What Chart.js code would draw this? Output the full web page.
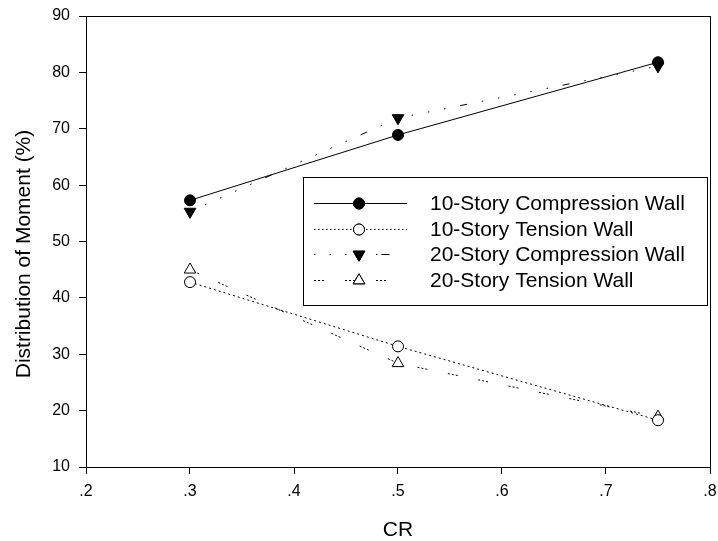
<!DOCTYPE html>
<html>
<head>
<meta charset="utf-8">
<script src="https://cdn.jsdelivr.net/npm/chart.js@4/dist/chart.umd.min.js"></script>
<style>
    html, body { margin: 0; padding: 0; background: #fff; }
    #wrap { width: 718px; height: 541px; }
</style>
</head>
<body>
<div id="wrap"><canvas id="momentChart" width="718" height="541"></canvas></div>
<script>
// --- data ---
const crValues = [0.3, 0.5, 0.75];
const compression10 = [57.3, 68.9, 81.8];
const tension10 = [42.8, 31.4, 18.3];
const compression20 = [55.3, 71.9, 81.1];
const tension20 = [45.0, 28.4, 18.9];
const seriesNames = [
    '10-Story Compression Wall',
    '10-Story Tension Wall',
    '20-Story Compression Wall',
    '20-Story Tension Wall'
];
const xTicks = [0.2, 0.3, 0.4, 0.5, 0.6, 0.7, 0.8];
const yTicks = [10, 20, 30, 40, 50, 60, 70, 80, 90];

const FONT = '"Liberation Sans", Arial, sans-serif';

function toPoints(values) {
    return crValues.map((x, i) => ({ x: x, y: values[i] }));
}

// line style for each series (dash on plot / dash in legend)
const styles = [
    { dash: [], legendDash: [], point: 'circle', rot: 0, fill: '#000', radius: 5.5 },
    { dash: [2, 3], legendDash: [1.5, 2.5], point: 'circle', rot: 0, fill: '#fff', radius: 5.5 },
    { dash: [1.5, 15, 1.5, 15, 1.5, 15, 1.5, 15, 1.5, 15, 7, 15],
      legendDash: [1.5, 14, 1.5, 14, 1.5, 14, 1.5, 14, 1.5, 4, 8, 20], point: 'triangle', rot: 180, fill: '#000', radius: 6.7 },
    { dash: [2, 2, 2, 2, 2, 21], legendDash: [2, 2, 2, 2, 2, 21], point: 'triangle', rot: 0, fill: '#fff', radius: 6.7 }
];

const seriesValues = [compression10, tension10, compression20, tension20];

const datasets = seriesValues.map((vals, i) => ({
    label: seriesNames[i],
    data: toPoints(vals),
    borderColor: '#000',
    borderWidth: 1,
    borderDash: styles[i].dash,
    pointStyle: styles[i].point,
    pointRotation: styles[i].rot,
    pointRadius: styles[i].radius,
    pointBackgroundColor: styles[i].fill,
    pointBorderColor: '#000',
    pointBorderWidth: 1,
    tension: 0,
    fill: false
}));

// frame around plot area + rotated y title
const framePlugin = {
    id: 'frame',
    afterDatasetsDraw(chart) {
        const c = chart.ctx, a = chart.chartArea;
        c.save();
        c.strokeStyle = '#000';
        c.lineWidth = 1;
        c.strokeRect(Math.round(a.left) + 0.5, Math.round(a.top) + 0.5,
            Math.round(a.right - a.left), Math.round(a.bottom - a.top));
        c.translate(24, 254);
        c.rotate(-Math.PI / 2);
        c.fillStyle = '#000';
        c.font = '21px ' + FONT;
        c.textAlign = 'center';
        c.textBaseline = 'middle';
        c.fillText('Distribution of Moment (%)', 0, 0);
        c.restore();
    }
};

// SigmaPlot style legend box
const legendPlugin = {
    id: 'boxLegend',
    afterDraw(chart) {
        const c = chart.ctx;
        const box = { x: 303, y: 177, w: 404, h: 128 };
        const rows = [203, 229, 254, 280];
        c.save();
        c.fillStyle = '#fff';
        c.fillRect(box.x, box.y, box.w, box.h);
        c.strokeStyle = '#000';
        c.lineWidth = 1;
        c.strokeRect(box.x + 0.5, box.y + 0.5, box.w, box.h);
        rows.forEach((ry, i) => {
            const s = styles[i];
            c.beginPath();
            c.setLineDash(s.legendDash);
            c.moveTo(314, ry + 0.5);
            c.lineTo(407, ry + 0.5);
            c.stroke();
            c.setLineDash([]);
            Chart.helpers.drawPoint(c, {
                pointStyle: s.point,
                rotation: s.rot,
                radius: s.radius,
                borderWidth: 1
            }, 359, ry + 0.5);
            c.fillStyle = s.fill;
            c.fill();
            c.stroke();
            c.fillStyle = '#000';
            c.font = '21px ' + FONT;
            c.textBaseline = 'middle';
            c.textAlign = 'left';
            c.fillText(seriesNames[i], 430, ry + 1);
        });
        c.restore();
    }
};

const ctx = document.getElementById('momentChart').getContext('2d');
const momentChart = new Chart(ctx, {
    type: 'line',
    data: { datasets: datasets },
    plugins: [framePlugin, legendPlugin],
    options: {
        responsive: false,
        animation: false,
        layout: { padding: { top: 16, right: 8, left: 0, bottom: 0 } },
        plugins: {
            legend: { display: false },
            tooltip: { enabled: false }
        },
        scales: {
            x: {
                type: 'linear',
                min: 0.2,
                max: 0.8,
                afterBuildTicks: (axis) => { axis.ticks = xTicks.map(v => ({ value: v })); },
                afterFit: (axis) => {
                    axis.height = 74;
                    axis.paddingLeft = 0;
                    axis.paddingRight = 0;
                },
                ticks: {
                    color: '#000',
                    padding: 8,
                    font: { family: FONT, size: 16 },
                    callback: (v) => Number(v).toFixed(1).replace(/^0/, ''),
                    maxRotation: 0
                },
                grid: { drawOnChartArea: false, drawTicks: true, tickLength: 7, color: '#000' },
                border: { display: true, color: '#000', width: 1 },
                title: {
                    display: true,
                    text: 'CR',
                    color: '#000',
                    font: { family: FONT, size: 21 },
                    padding: { top: 10, bottom: -2 }
                }
            },
            y: {
                type: 'linear',
                min: 10,
                max: 90,
                afterBuildTicks: (axis) => { axis.ticks = yTicks.map(v => ({ value: v })); },
                afterFit: (axis) => {
                    axis.width = 86;
                    axis.paddingTop = 0;
                    axis.paddingBottom = 0;
                },
                ticks: {
                    color: '#000',
                    padding: 9,
                    font: { family: FONT, size: 16 }
                },
                grid: { drawOnChartArea: false, drawTicks: true, tickLength: 7, color: '#000' },
                border: { display: true, color: '#000', width: 1 }
            }
        }
    }
});
</script>
</body>
</html>
